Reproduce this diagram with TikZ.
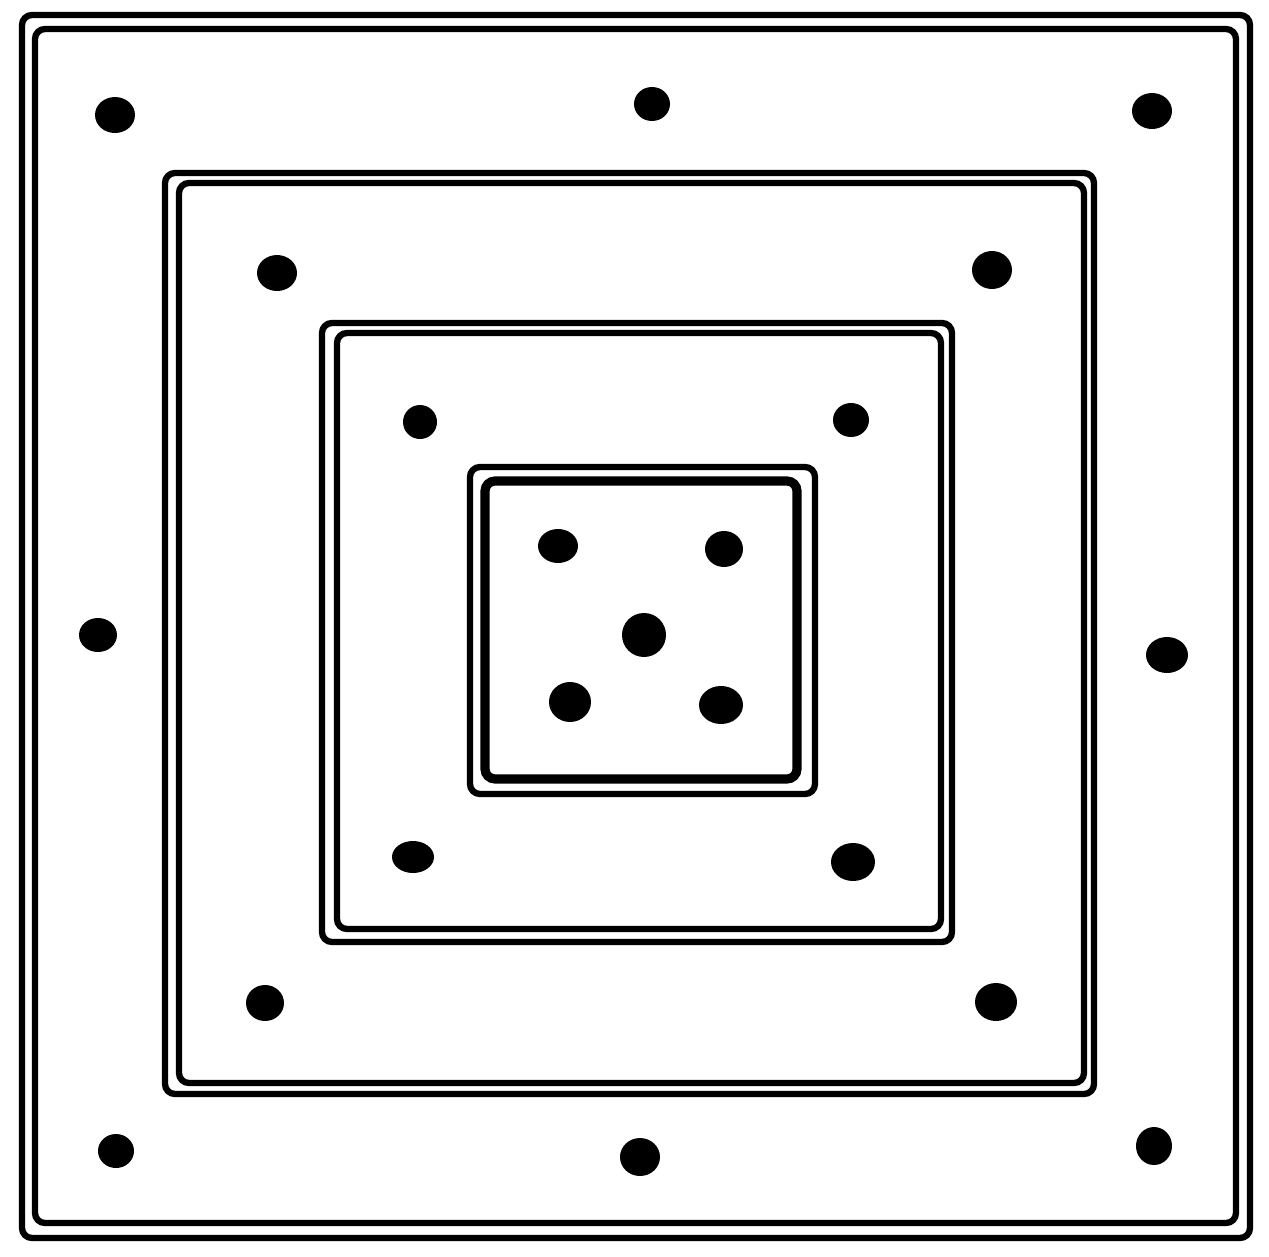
\documentclass[tikz,border=0pt]{standalone}
\usetikzlibrary{calc}

\tikzset{
  rim/.style={line width=1.8pt,rounded corners=1mm},
  rimthick/.style={line width=2.6pt,rounded corners=1mm},
  dot/.style={fill=black}
}

\begin{document}
\begin{tikzpicture}[x=0.01cm,y=-0.01cm]
  \useasboundingbox (0,0) rectangle (1269,1257);

  % outer frame
  \draw[rim] (22,15) rectangle (1250,1238);
  \draw[rim] (35,29) rectangle (1236,1223);

  % second frame
  \draw[rim] (165,173) rectangle (1094,1094);
  \draw[rim] (179,183) rectangle (1084,1083);

  % third frame
  \draw[rim] (322,323) rectangle (952,942);
  \draw[rim] (337,333) rectangle (941,929);

  % inner frame
  \draw[rim] (470,467) rectangle (815,794);
  \draw[rimthick] (485,481) rectangle (797,779);

  % dots of the outer ring
  \fill[dot] (115,115) ellipse (20 and 18);
  \fill[dot] (652,104) ellipse (18 and 17);
  \fill[dot] (1152,111) ellipse (20 and 18);
  \fill[dot] (98,635) ellipse (19 and 17);
  \fill[dot] (1167,655) ellipse (21 and 18);
  \fill[dot] (116,1151) ellipse (18 and 17);
  \fill[dot] (640,1157) ellipse (20 and 19);
  \fill[dot] (1154,1146) ellipse (18 and 19);

  % dots of the second ring
  \fill[dot] (277,273) ellipse (20 and 18);
  \fill[dot] (992,270) ellipse (20 and 19);
  \fill[dot] (265,1003) ellipse (19 and 18);
  \fill[dot] (996,1002) ellipse (21 and 19);

  % dots of the third ring
  \fill[dot] (420,422) ellipse (17 and 17);
  \fill[dot] (851,420) ellipse (18 and 17);
  \fill[dot] (413,857) ellipse (21 and 16);
  \fill[dot] (853,862) ellipse (22 and 19);

  % dots of the centre square
  \fill[dot] (558,546) ellipse (20 and 17);
  \fill[dot] (724,549) ellipse (19 and 18);
  \fill[dot] (644,635) ellipse (22 and 22);
  \fill[dot] (570,702) ellipse (21 and 20);
  \fill[dot] (721,705) ellipse (22 and 19);

\end{tikzpicture}
\end{document}
